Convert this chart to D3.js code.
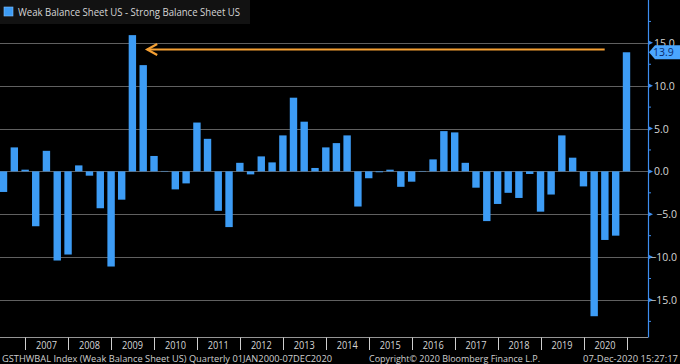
<!DOCTYPE html>
<html><head><meta charset="utf-8">
<script src="https://cdn.jsdelivr.net/npm/d3@7"></script>
<style>
html,body{margin:0;padding:0;background:#000;}
svg{display:block;}
text{font-family:"Open Sans","DejaVu Sans",sans-serif;}
</style></head>
<body><svg id="c" width="680" height="364"></svg>
<script>
const quarters = ["2006Q2","2006Q3","2006Q4",
"2007Q1","2007Q2","2007Q3","2007Q4","2008Q1","2008Q2","2008Q3","2008Q4",
"2009Q1","2009Q2","2009Q3","2009Q4","2010Q1","2010Q2","2010Q3","2010Q4",
"2011Q1","2011Q2","2011Q3","2011Q4","2012Q1","2012Q2","2012Q3","2012Q4",
"2013Q1","2013Q2","2013Q3","2013Q4","2014Q1","2014Q2","2014Q3","2014Q4",
"2015Q1","2015Q2","2015Q3","2015Q4","2016Q1","2016Q2","2016Q3","2016Q4",
"2017Q1","2017Q2","2017Q3","2017Q4","2018Q1","2018Q2","2018Q3","2018Q4",
"2019Q1","2019Q2","2019Q3","2019Q4","2020Q1","2020Q2","2020Q3","2020Q4"];
const values = [-2.4,2.8,0.2,
-6.4,2.4,-10.4,-9.7,0.7,-0.5,-4.3,-11.1,
-3.3,15.9,12.4,1.8,0.05,-2.1,-1.4,5.7,
3.8,-4.6,-6.5,1.0,-0.35,1.75,1.05,4.2,
8.6,5.8,0.4,2.8,3.3,4.2,-4.1,-0.8,
-0.1,0.2,-1.8,-1.2,0.05,1.4,4.7,4.55,
1.0,-1.9,-5.8,-3.8,-2.5,-3.1,-0.3,-4.7,
-2.7,4.2,1.6,-1.75,-16.9,-8.0,-7.5,13.9];
const yearLabels = ["2007","2008","2009","2010","2011","2012","2013","2014","2015","2016","2017","2018","2019","2020"];
const yTicks = [15,10,5,0,-5,-10,-15];
const seriesName = "Weak Balance Sheet US - Strong Balance Sheet US";
const lastValue = 13.9;
const arrowFromQuarter = "2020Q3", arrowToQuarter = "2009Q3";
const footerLeft = "GSTHWBAL Index (Weak Balance Sheet US)  Quarterly 01JAN2000-07DEC2020";
const footerMid = "Copyright\u00A9 2020 Bloomberg Finance L.P.";
const footerRight = "07-Dec-2020 15:27:17";

const qDate = q => { const y=+q.slice(0,4), n=+q.slice(5); return new Date(y, n*3, 0); };
const svg = d3.select("#c");
const W=680, axisX=648, plotBottom=337.5;
const x = d3.scaleTime().domain([qDate(quarters[0]), qDate(quarters[quarters.length-1])]).range([3.5,626.5]);
const y = d3.scaleLinear().domain([-19.5,20]).range([338.5,0]);
const barW = 7.4;
const blue = "#3d9cf5";
const txt = "#d6d6d6";

// gridlines
svg.append("g").selectAll("line").data(yTicks).join("line")
  .attr("x1",0).attr("x2",axisX).attr("y1",d=>Math.round(y(d))+0.5).attr("y2",d=>Math.round(y(d))+0.5)
  .attr("stroke","#606060").attr("stroke-width",1);

// bars
svg.append("g").selectAll("rect").data(values).join("rect")
  .attr("x",(d,i)=>x(qDate(quarters[i]))-barW/2)
  .attr("width",barW)
  .attr("y",d=>y(Math.max(0,d)))
  .attr("height",d=>Math.abs(y(d)-y(0)))
  .attr("fill",blue);

// legend
svg.append("rect").attr("x",0).attr("y",0).attr("width",250).attr("height",24).attr("fill","#121212");
svg.append("rect").attr("x",4).attr("y",7).attr("width",9).attr("height",9).attr("fill",blue).attr("stroke","#7fc0ff").attr("stroke-width",0.6);
svg.append("text").attr("x",18).attr("y",16).attr("fill",txt).attr("font-size",11)
  .attr("textLength",222).attr("lengthAdjust","spacingAndGlyphs").text(seriesName);

// arrow
const ax1 = x(qDate(arrowFromQuarter))-11, ax2 = x(qDate(arrowToQuarter))+4, ay = 49.5;
svg.append("line").attr("x1",ax2).attr("x2",ax1).attr("y1",ay).attr("y2",ay).attr("stroke","#f5a033").attr("stroke-width",2);
svg.append("path").attr("d",`M${ax2+10},${ay-5.5}L${ax2},${ay}L${ax2+10},${ay+5.5}`).attr("fill","none").attr("stroke","#f5a033").attr("stroke-width",2.2);

// right axis
svg.append("line").attr("x1",axisX+0.5).attr("x2",axisX+0.5).attr("y1",0).attr("y2",plotBottom).attr("stroke","#3d8ef0").attr("stroke-width",1.2);
const minor = d3.range(-17.5,20,2.5).filter(v=>!yTicks.includes(v));
svg.append("g").selectAll("line").data(minor).join("line")
  .attr("x1",axisX).attr("x2",axisX+3).attr("y1",d=>y(d)).attr("y2",d=>y(d)).attr("stroke","#3d8ef0");
svg.append("g").selectAll("path").data(yTicks).join("path")
  .attr("d",d=>`M${axisX},${y(d)-2.5}L${axisX+5},${y(d)}L${axisX},${y(d)+2.5}Z`).attr("fill","#3d8ef0");
svg.append("g").selectAll("text").data(yTicks).join("text")
  .attr("x",d=>d<0?677:654).attr("text-anchor",d=>d<0?"end":"start")
  .attr("y",d=>y(d)+4).attr("fill",txt).attr("font-size",10.5)
  .text(d=>d3.format(".1f")(d));

// last value tag
const ty = y(lastValue);
svg.append("path").attr("d",`M${axisX+1},${ty}L${axisX+7},${ty-7}L${W},${ty-7}L${W},${ty+7}L${axisX+7},${ty+7}Z`).attr("fill","#4aa6ff");
svg.append("text").attr("x",653).attr("y",ty+4).attr("fill","#0a2a6a").attr("font-size",10.5).text(d3.format(".1f")(lastValue));

// bottom axis
svg.append("line").attr("x1",0).attr("x2",axisX).attr("y1",plotBottom).attr("y2",plotBottom).attr("stroke","#bbb").attr("stroke-width",0.8);
const seps = yearLabels.map(s=>new Date(+s,0,1)).concat([new Date(+yearLabels[yearLabels.length-1]+1,0,1)]);
svg.append("g").selectAll("line").data(seps).join("line")
  .attr("x1",d=>Math.round(x(d))+0.5).attr("x2",d=>Math.round(x(d))+0.5).attr("y1",plotBottom).attr("y2",350)
  .attr("stroke","#cfcfcf").attr("stroke-width",1);
svg.append("g").selectAll("text").data(yearLabels).join("text")
  .attr("x",d=>x(new Date(+d,6,1))).attr("y",348.5).attr("text-anchor","middle").attr("fill",txt).attr("font-size",10)
  .attr("textLength",21).attr("lengthAdjust","spacingAndGlyphs").text(d=>d);

// footer
const fy = 362;
svg.append("text").attr("x",2).attr("y",fy).attr("fill","#cfcfcf").attr("font-size",9.5)
  .attr("textLength",330).attr("lengthAdjust","spacingAndGlyphs").text(footerLeft);
svg.append("text").attr("x",369).attr("y",fy).attr("fill","#cfcfcf").attr("font-size",9.5)
  .attr("textLength",171).attr("lengthAdjust","spacingAndGlyphs").text(footerMid);
svg.append("text").attr("x",583).attr("y",fy).attr("fill","#cfcfcf").attr("font-size",9.5)
  .attr("textLength",95).attr("lengthAdjust","spacingAndGlyphs").text(footerRight);
</script></body></html>
